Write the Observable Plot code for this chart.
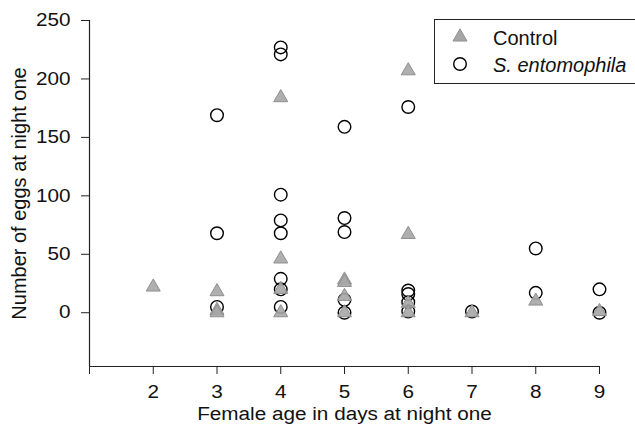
<!DOCTYPE html>
<html>
<head>
<meta charset="utf-8">
<script src="https://cdn.jsdelivr.net/npm/d3@7"></script>
<script src="https://cdn.jsdelivr.net/npm/@observablehq/plot@0.6"></script>
<style>
  html, body { margin: 0; padding: 0; background: #fff; overflow: hidden; }
  #wrap { position: relative; width: 635px; height: 426px; }
  #legend { position: absolute; left: 434px; top: 19px; width: 215px; height: 63px;
            border: 1px solid #222; background: #fff; }
  #legend svg { display: block; }
</style>
</head>
<body>
<div id="wrap"><div id="legend"></div></div>
<script>
// Female age (days) and eggs laid on night one
const controlAge  = [2, 3, 3, 3, 4, 4, 4, 4, 5, 5, 5, 5, 6, 6, 6, 6, 7, 8, 9];
const controlEggs = [22, 18, 2, 0, 184, 46, 20, 0, 28, 26, 14, 0, 207, 67, 8, 0, 0, 10, 1];
const entoAge  = [3, 3, 3, 4, 4, 4, 4, 4, 4, 4, 4, 5, 5, 5, 5, 5, 6, 6, 6, 6, 6, 7, 8, 8, 9, 9];
const entoEggs = [169, 68, 5, 227, 221, 101, 79, 68, 29, 20, 5, 159, 81, 69, 11, 0, 176, 19, 16, 9, 1, 1, 55, 17, 20, 0];
const xTicks = [1, 2, 3, 4, 5, 6, 7, 8, 9];
const yTicks = [0, 50, 100, 150, 200, 250];
const xDomain = [1, 9];
const yDomain = [-46, 250];
const seriesNames = ["Control", "S. entomophila"];

const control = controlAge.map((a, i) => ({age: a, eggs: controlEggs[i]}));
const ento = entoAge.map((a, i) => ({age: a, eggs: entoEggs[i]}));

const FONT = '"Liberation Sans", Arial, Helvetica, sans-serif';
const triFill = "#a6a6a6", triStroke = "#8f8f8f";

const chart = Plot.plot({
  width: 635,
  height: 426,
  marginLeft: 89,
  marginRight: 36,
  marginTop: 20,
  marginBottom: 60,
  style: {fontFamily: FONT, fontSize: "18px", color: "#111", background: "#fff", overflow: "visible"},
  x: {domain: xDomain},
  y: {domain: yDomain},
  marks: [
    Plot.axisX({ticks: xTicks, tickFormat: d => d === 1 ? "" : String(d), tickSize: 8, tickPadding: 11,
      label: "Female age in days at night one", labelAnchor: "center", labelOffset: 53, labelArrow: "none",
      fontSize: 18, stroke: "#222"}),
    Plot.axisY({ticks: yTicks, tickSize: 8, tickPadding: 11,
      label: "Number of eggs at night one", labelAnchor: "center", labelOffset: 78, labelArrow: "none",
      fontSize: 18, stroke: "#222"}),
    Plot.ruleX([xDomain[0]], {stroke: "#222", strokeWidth: 1.2}),
    Plot.ruleY([yDomain[0]], {stroke: "#222", strokeWidth: 1.2}),
    Plot.dot(ento, {x: "age", y: "eggs", r: 6.3, fill: "none", stroke: "#000", strokeWidth: 1.4}),
    Plot.dot(control, {x: "age", y: "eggs", symbol: "triangle", r: 5.2, fill: triFill, stroke: triStroke, strokeWidth: 1, fillOpacity: 0.9})
  ]
});
const yl = chart.querySelector('[aria-label="y-axis label"]');
if (yl) yl.setAttribute("font-size", "20");
document.getElementById("wrap").prepend(chart);

// The reference's horizontal texts are slightly wide: stretch them a little
chart.querySelectorAll('[aria-label="x-axis tick label"] text, [aria-label="y-axis tick label"] text, [aria-label="x-axis label"] text')
  .forEach(t => {
    const L = t.getComputedTextLength();
    if (L > 0) {
      t.setAttribute("textLength", (L * 1.15).toFixed(2));
      t.setAttribute("lengthAdjust", "spacingAndGlyphs");
    }
  });

// Legend (inside the plot area, top right)
const lg = d3.select("#legend").append("svg").attr("width", 215).attr("height", 63)
  .style("font-family", FONT).style("font-size", "20px");
lg.append("path").attr("transform", "translate(25,17)")
  .attr("d", d3.symbol(d3.symbolTriangle, Math.PI * 5.2 * 5.2)())
  .attr("fill", triFill).attr("stroke", triStroke);
lg.append("circle").attr("cx", 25).attr("cy", 44).attr("r", 6.3)
  .attr("fill", "none").attr("stroke", "#000").attr("stroke-width", 1.4);
lg.append("text").attr("x", 58).attr("y", 25).attr("fill", "#111").text(seriesNames[0]);
lg.append("text").attr("x", 58).attr("y", 52).attr("fill", "#111").style("font-style", "italic").text(seriesNames[1]);
</script>
</body>
</html>
